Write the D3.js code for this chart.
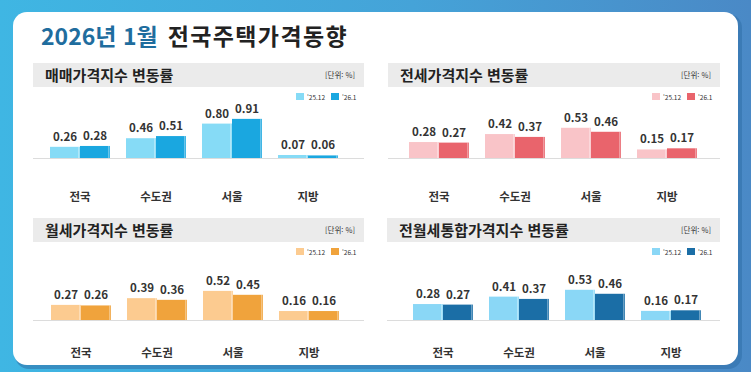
<!DOCTYPE html>
<html lang="ko">
<head>
<meta charset="utf-8">
<title>2026년 1월 전국주택가격동향</title>
<script src="https://cdn.jsdelivr.net/npm/d3@7"></script>
<style>
  html, body { margin: 0; padding: 0; background: #fff; }
  svg text { font-family: "Noto Sans CJK KR", "Noto Sans", sans-serif; }
</style>
</head>
<body>
<div id="chart"></div>
<script>
// data
var regions = ["전국", "수도권", "서울", "지방"]
var seriesNames = ["'25.12", "'26.1"]

var saleTitle = "매매가격지수 변동률"
var sale2512 = [0.26, 0.46, 0.80, 0.07]
var sale2601 = [0.28, 0.51, 0.91, 0.06]

var jeonseTitle = "전세가격지수 변동률"
var jeonse2512 = [0.28, 0.42, 0.53, 0.15]
var jeonse2601 = [0.27, 0.37, 0.46, 0.17]

var wolseTitle = "월세가격지수 변동률"
var wolse2512 = [0.27, 0.39, 0.52, 0.16]
var wolse2601 = [0.26, 0.36, 0.45, 0.16]

var totalTitle = "전월세통합가격지수 변동률"
var total2512 = [0.28, 0.41, 0.53, 0.16]
var total2601 = [0.27, 0.37, 0.46, 0.17]

var W = 751, H = 372

var svg = d3.select("#chart").append("svg")
  .attr("width", W).attr("height", H)

// background frame
var defs = svg.append("defs")
var grad = defs.append("linearGradient").attr("id", "frameGrad")
  .attr("x1", "0%").attr("x2", "100%").attr("y1", "0%").attr("y2", "0%")
grad.append("stop").attr("offset", "0%").attr("stop-color", "#3fb6e3")
grad.append("stop").attr("offset", "55%").attr("stop-color", "#45a3d8")
grad.append("stop").attr("offset", "100%").attr("stop-color", "#4a89c6")

svg.append("rect").attr("width", W).attr("height", H).attr("fill", "url(#frameGrad)")
// shadow under the card
svg.append("rect").attr("x", 15).attr("y", 14).attr("width", 727).attr("height", 355)
  .attr("rx", 14).attr("fill", "#2f6fa8").attr("opacity", 0.55)
svg.append("rect").attr("x", 13).attr("y", 12).attr("width", 725).attr("height", 353)
  .attr("rx", 14).attr("fill", "#ffffff")

// main title
var title = svg.append("text").attr("x", 41).attr("y", 45)
  .attr("font-size", 23).attr("font-weight", 700)
title.append("tspan").attr("fill", "#1f6d9e").text("2026년 1월")
title.append("tspan").attr("fill", "#222").attr("dx", 10).attr("letter-spacing", 1.4)
  .text("전국주택가격동향")

function panel(opt){
  var g = svg.append("g")

  // header strip
  g.append("rect").attr("x", opt.hx0).attr("y", opt.hy)
    .attr("width", opt.hx1 - opt.hx0).attr("height", 24).attr("fill", "#ebebeb")
  g.append("text").attr("x", opt.hx0 + 12).attr("y", opt.hy + 18)
    .attr("font-size", 15).attr("font-weight", 700).attr("fill", "#222")
    .text(opt.title)
  g.append("text").attr("x", opt.hx1 - 9).attr("y", opt.hy + 15)
    .attr("text-anchor", "end").attr("font-size", 7.5).attr("fill", "#333")
    .text("[단위: %]")

  // legend
  var lg = g.append("g").attr("transform", "translate(" + (opt.hx1 - 68) + "," + (opt.hy + 30) + ")")
  seriesNames.forEach(function(s, i){
    lg.append("rect").attr("x", i * 35).attr("y", 0).attr("width", 8).attr("height", 7)
      .attr("fill", opt.colors[i])
    lg.append("text").attr("x", i * 35 + 11).attr("y", 6.5)
      .attr("font-size", 6.5).attr("fill", "#333").text(s)
  })

  var x = d3.scaleBand().domain(regions).range(opt.xRange)
    .paddingInner(16 / 76).paddingOuter(8 / 76)
  var xs = d3.scaleBand().domain([0, 1]).range([0, x.bandwidth()]).padding(0)
  var y = d3.scaleLinear().domain([0, 1]).range([opt.base, opt.base - opt.unit])

  // baseline
  g.append("line").attr("x1", opt.hx0).attr("x2", opt.hx1)
    .attr("y1", opt.base + 0.5).attr("y2", opt.base + 0.5)
    .attr("stroke", "#dcdcdc").attr("stroke-width", 1)

  var rows = []
  regions.forEach(function(r, i){
    rows.push({region: r, s: 0, v: opt.a[i]})
    rows.push({region: r, s: 1, v: opt.b[i]})
  })

  g.selectAll(".bar").data(rows).enter().append("rect")
    .attr("class", "bar")
    .attr("x", function(d){ return x(d.region) + xs(d.s) })
    .attr("y", function(d){ return y(d.v) })
    .attr("width", xs.bandwidth())
    .attr("height", function(d){ return y(0) - y(d.v) })
    .attr("fill", function(d){ return opt.colors[d.s] })
  // thin highlight near the right edge of each bar
  g.selectAll(".edge").data(rows).enter().append("rect")
    .attr("x", function(d){ return x(d.region) + xs(d.s) + xs.bandwidth() - 2 })
    .attr("y", function(d){ return y(d.v) })
    .attr("width", 1.5)
    .attr("height", function(d){ return y(0) - y(d.v) })
    .attr("fill", "#ffffff").attr("opacity", 0.35)

  g.selectAll(".val").data(rows).enter().append("text")
    .attr("x", function(d){ return x(d.region) + xs(d.s) + xs.bandwidth() / 2 })
    .attr("y", function(d){ return y(d.v) - 6 })
    .attr("text-anchor", "middle").attr("font-size", 11.5).attr("font-weight", 700)
    .attr("fill", "#333")
    .text(function(d){ return d.v.toFixed(2) })

  g.selectAll(".cat").data(regions).enter().append("text")
    .attr("x", function(d){ return x(d) + x.bandwidth() / 2 })
    .attr("y", opt.base + opt.catOff)
    .attr("text-anchor", "middle").attr("font-size", 11.5).attr("font-weight", 700)
    .attr("fill", "#333")
    .text(function(d){ return d })
}

panel({title: saleTitle, a: sale2512, b: sale2601, colors: ["#86dbf6", "#1aa7e0"],
  hx0: 33, hx1: 364, hy: 63, base: 158, unit: 43, xRange: [42, 346], catOff: 43})
panel({title: jeonseTitle, a: jeonse2512, b: jeonse2601, colors: ["#f9c4c8", "#e9646c"],
  hx0: 388, hx1: 720, hy: 63, base: 158, unit: 57, xRange: [401, 705], catOff: 43})
panel({title: wolseTitle, a: wolse2512, b: wolse2601, colors: ["#fccb90", "#f0a33c"],
  hx0: 33, hx1: 364, hy: 218, base: 320, unit: 56, xRange: [43, 347], catOff: 37})
panel({title: totalTitle, a: total2512, b: total2601, colors: ["#8ad7f6", "#1b6ea6"],
  hx0: 387, hx1: 720, hy: 218, base: 320, unit: 57, xRange: [405, 709], catOff: 37})
</script>
</body>
</html>
